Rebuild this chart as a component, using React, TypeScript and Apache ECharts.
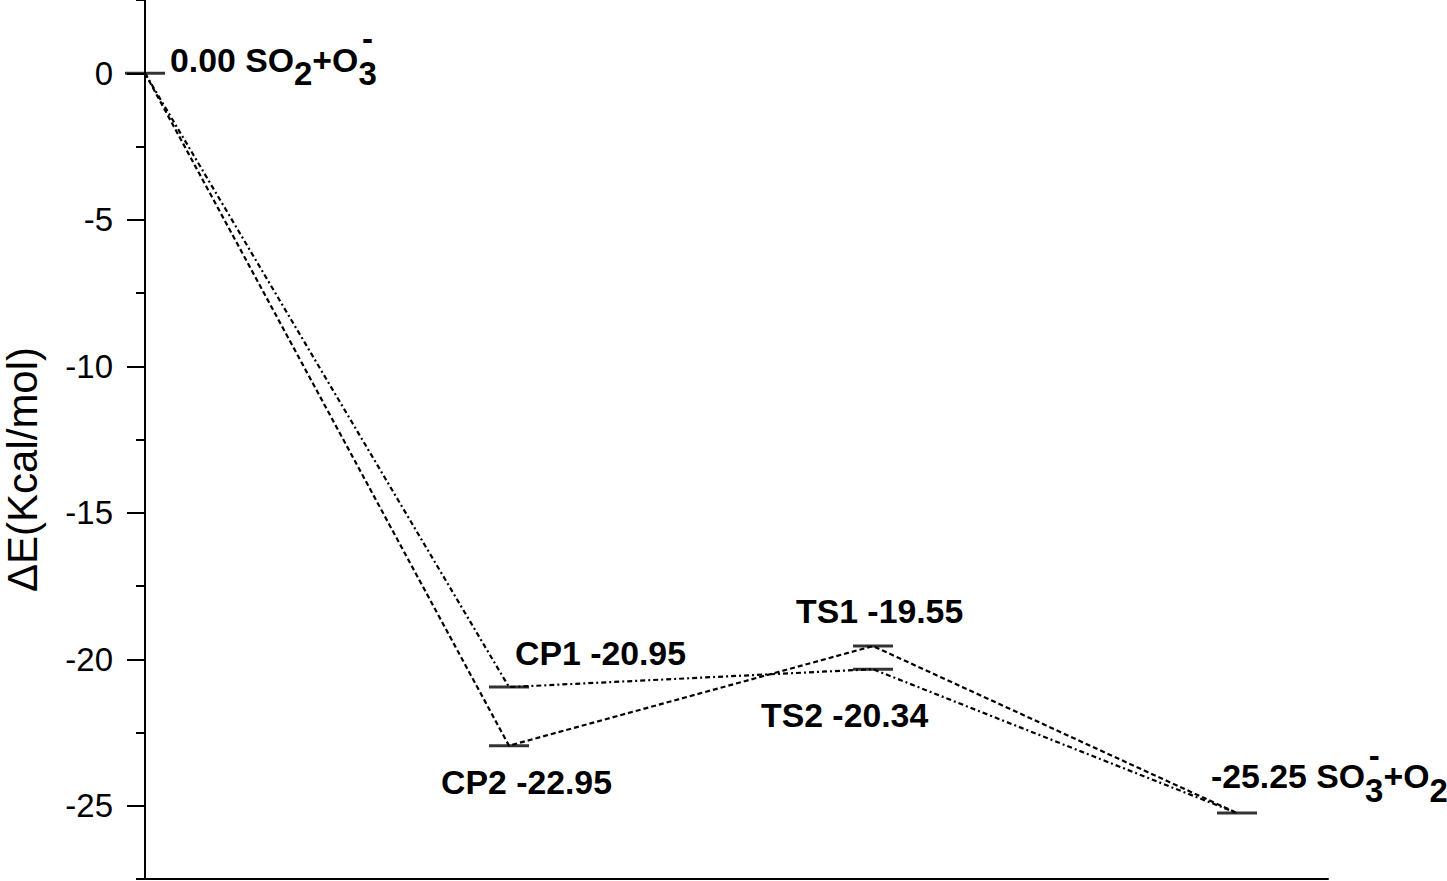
import React, { useEffect, useRef } from 'react';
import * as echarts from 'echarts';

// ---- data ----
const stateKeys = ['R', 'CP1', 'CP2', 'TS1', 'TS2', 'P'];
const stateX = [1, 2, 2, 3, 3, 4];
const stateEnergy = [0.0, -20.95, -22.95, -19.55, -20.34, -25.25];
const pathA = ['R', 'CP1', 'TS2', 'P'];
const pathB = ['R', 'CP2', 'TS1', 'P'];
const yTickLabels = [0, -5, -10, -15, -20, -25];
const yTitle = 'ΔE(Kcal/mol)';
const labelNames = ['', 'CP1', 'CP2', 'TS1', 'TS2', ''];
const reactantPieces: [string, string][] = [['SO', 'n'], ['2', 'sub'], ['+O', 'n'], ['3', 'sub'], ['-', 'sup']];
const productPieces: [string, string][] = [['SO', 'n'], ['3', 'sub'], ['-', 'sup'], ['+O', 'n'], ['2', 'sub']];

// ---- layout (pixel offsets of labels from their level) ----
const labelDx = [25, 6, -68, -77, -112, -26];
const labelDy = [-2, -22, 48, -23, 57, -25];
const FONT_FAMILY = '"Liberation Sans", Arial, sans-serif';
const MAIN_SIZE = 33.8;
const SUB_SIZE = 33;
const SUB_DROP = 14;
const SUP_RISE = 30;

function buildPieces(i: number): [string, string][] {
  const e = stateEnergy[i].toFixed(2);
  if (stateKeys[i] === 'R') return [[e + ' ', 'n'], ...reactantPieces];
  if (stateKeys[i] === 'P') return [[e + ' ', 'n'], ...productPieces];
  return [[labelNames[i] + ' ' + e, 'n']];
}

function pathData(path: string[]) {
  return path.map((k) => {
    const i = stateKeys.indexOf(k);
    return [stateX[i], stateEnergy[i]];
  });
}

export default function App() {
  const ref = useRef<HTMLDivElement>(null);
  useEffect(() => {
    if (!ref.current) return;
    const chart = echarts.init(ref.current, undefined, { renderer: 'svg' });
    const axisColor = '#000';
    chart.setOption({
      animation: false,
      backgroundColor: '#fff',
      grid: { left: 145, right: 119, top: 0, bottom: 2, containLabel: false, outerBoundsMode: 'none' },
      xAxis: {
        type: 'value',
        min: 1,
        max: 4.25,
        axisLine: { show: true, onZero: false, lineStyle: { color: axisColor, width: 2 } },
        axisTick: { show: false },
        axisLabel: { show: false },
        splitLine: { show: false },
      },
      yAxis: [
        {
          type: 'value',
          position: 'left',
          min: -27.5,
          max: 2.5,
          interval: 2.5,
          name: yTitle,
          nameLocation: 'middle',
          nameRotate: 90,
          nameGap: 102,
          nameTextStyle: {
            fontSize: 42,
            fontFamily: FONT_FAMILY,
            color: '#000',
            padding: [0, 60, 0, 0],
          },
          axisLine: { show: true, onZero: false, lineStyle: { color: axisColor, width: 2 } },
          axisTick: {
            show: true,
            length: 18,
            customValues: yTickLabels,
            lineStyle: { color: axisColor, width: 2 },
          },
          axisLabel: {
            show: true,
            customValues: yTickLabels,
            margin: 32,
            fontSize: 33,
            fontFamily: FONT_FAMILY,
            color: '#000',
            padding: [0, 0, 6, 0],
          },
          splitLine: { show: false },
        },
        {
          type: 'value',
          position: 'left',
          min: -27.5,
          max: 2.5,
          interval: 2.5,
          axisLine: { show: false, onZero: false },
          axisTick: { show: true, length: 9, lineStyle: { color: axisColor, width: 2 } },
          axisLabel: { show: false },
          splitLine: { show: false },
        },
      ],
      series: [
        {
          type: 'line',
          data: pathData(pathA),
          symbol: 'none',
          clip: false,
          silent: true,
          lineStyle: { color: '#000', width: 2.2, type: [5, 3, 2, 3] },
          z: 2,
        },
        {
          type: 'line',
          data: pathData(pathB),
          symbol: 'none',
          clip: false,
          silent: true,
          lineStyle: { color: '#000', width: 2.2, type: [5, 3] },
          z: 2,
        },
        {
          type: 'scatter',
          data: stateX.map((x, i) => [x, stateEnergy[i]]),
          symbol: 'rect',
          symbolSize: [40, 3],
          itemStyle: { color: '#000' },
          clip: false,
          silent: true,
          z: 3,
        },
      ],
    });

    const canvas = document.createElement('canvas');
    const ctx = canvas.getContext('2d')!;
    const fontOf = (size: number) => `bold ${size}px ${FONT_FAMILY}`;
    const measure = (t: string, size: number) => {
      ctx.font = fontOf(size);
      return ctx.measureText(t).width;
    };
    const central = 0.3465;
    const els: any[] = [];
    const addText = (t: string, x: number, baseline: number, size: number) => {
      els.push({
        type: 'text',
        silent: true,
        z: 10,
        style: {
          text: t,
          x,
          y: baseline - central * size,
          fill: '#000',
          font: fontOf(size),
          fontFamily: FONT_FAMILY,
          fontSize: size,
          fontWeight: 'bold',
          align: 'left',
          verticalAlign: 'middle',
        },
      });
    };
    stateKeys.forEach((_, i) => {
      const p = chart.convertToPixel({ seriesIndex: 2 }, [stateX[i], stateEnergy[i]]) as number[];
      let x = p[0] + labelDx[i];
      const base = p[1] + labelDy[i];
      let lastSub = { x: 0, w: 0 };
      buildPieces(i).forEach(([t, kind]) => {
        if (kind === 'sup') {
          const w = measure(t, SUB_SIZE);
          const sx = lastSub.x + (lastSub.w - w) / 2;
          addText(t, sx, base - SUP_RISE + 0.255 * SUB_SIZE, SUB_SIZE);
          return;
        }
        const size = kind === 'sub' ? SUB_SIZE : MAIN_SIZE;
        const w = measure(t, size);
        addText(t, x, kind === 'sub' ? base + SUB_DROP : base, size);
        if (kind === 'sub') lastSub = { x, w };
        x += w;
      });
    });
    chart.setOption({ graphic: els });

    return () => chart.dispose();
  }, []);
  return (
    <div
      ref={ref}
      style={{ position: 'absolute', left: 0, top: 0, width: 1447, height: 881 }}
    />
  );
}
